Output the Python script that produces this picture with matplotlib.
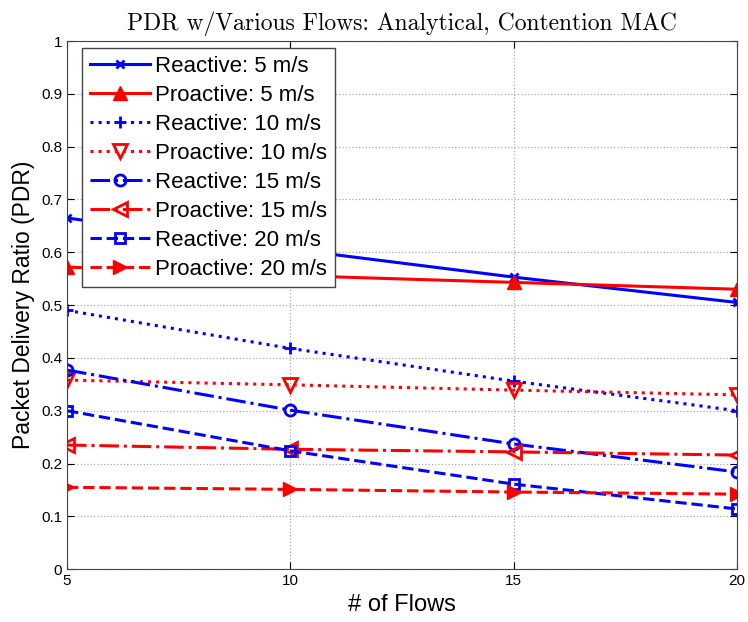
import matplotlib
matplotlib.use('Agg')
import matplotlib.pyplot as plt

flows = [5, 10, 15, 20]

reactive_5 = [0.665, 0.606, 0.553, 0.505]
proactive_5 = [0.572, 0.556, 0.543, 0.530]
reactive_10 = [0.490, 0.418, 0.356, 0.300]
proactive_10 = [0.358, 0.349, 0.339, 0.330]
reactive_15 = [0.377, 0.301, 0.237, 0.184]
proactive_15 = [0.235, 0.227, 0.222, 0.216]
reactive_20 = [0.300, 0.224, 0.161, 0.114]
proactive_20 = [0.155, 0.151, 0.146, 0.142]

plt.rcParams['font.family'] = ['Liberation Sans', 'DejaVu Sans']

fig = plt.figure(figsize=(7.48, 6.22), dpi=100)
ax = fig.add_axes([0.0896, 0.085, 0.8954, 0.849])

lw = 2.2
ax.plot(flows, reactive_5, color='blue', ls='-', lw=lw, marker='x', ms=6, mew=2, label='Reactive: 5 m/s')
ax.plot(flows, proactive_5, color='red', ls='-', lw=lw, marker='^', ms=10, label='Proactive: 5 m/s')
ax.plot(flows, reactive_10, color='blue', ls=':', lw=lw, marker='+', ms=9, mew=2, label='Reactive: 10 m/s')
ax.plot(flows, proactive_10, color='red', ls=':', lw=lw, marker='v', ms=10, mfc='none', mew=2, label='Proactive: 10 m/s')
ax.plot(flows, reactive_15, color='blue', ls='-.', lw=lw, marker='o', ms=8, mfc='none', mew=2, label='Reactive: 15 m/s')
ax.plot(flows, proactive_15, color='red', ls='-.', lw=lw, marker='<', ms=10, mfc='none', mew=2, label='Proactive: 15 m/s')
ax.plot(flows, reactive_20, color='blue', ls='--', lw=lw, marker='s', ms=7, mfc='none', mew=2, label='Reactive: 20 m/s')
ax.plot(flows, proactive_20, color='red', ls='--', lw=lw, marker='>', ms=10, label='Proactive: 20 m/s')

ax.set_xlim(5, 20)
ax.set_ylim(0, 1)
ax.set_xticks(flows)
ax.set_yticks([i / 10 for i in range(11)])
ax.set_yticklabels(['0'] + ['%.1f' % (i / 10) for i in range(1, 10)] + ['1'])
ax.tick_params(labelsize=11, direction='in', length=5, top=True, right=True)
ax.grid(True, ls=':', color='#aaaaaa', lw=0.9)
for s in ax.spines.values():
    s.set_color('#444444')

ax.set_xlabel('# of Flows', fontsize=17)
ax.set_ylabel('Packet Delivery Ratio (PDR)', fontsize=16.5)
ax.set_title('PDR w/Various Flows: Analytical, Contention MAC', fontfamily='cmr10',
             fontsize=17, pad=8)

leg = ax.legend(loc='upper left', fontsize=16, labelspacing=0.36, handlelength=2.7,
                borderpad=0.35, handletextpad=0.25, fancybox=False, framealpha=1,
                bbox_to_anchor=(0.022, 0.987), borderaxespad=0)
leg.get_frame().set_edgecolor('#444444')

fig.savefig('out.png', dpi=100)
